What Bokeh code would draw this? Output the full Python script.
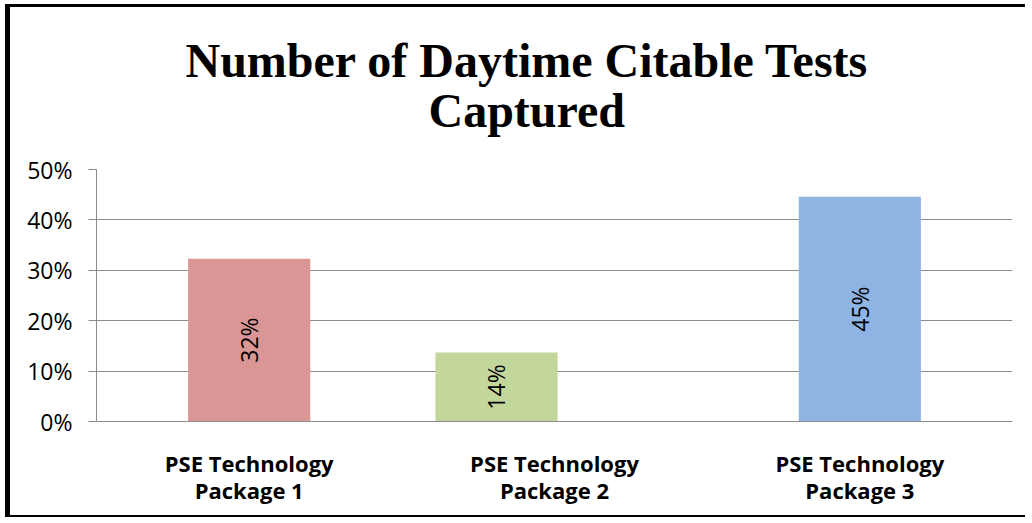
from bokeh.plotting import figure
from bokeh.models import ColumnDataSource, NumeralTickFormatter, FixedTicker, Title, FactorRange
from bokeh.core.properties import value
from bokeh.embed import file_html
from bokeh.resources import INLINE

# ---- data ----
categories = ["PSE Technology\nPackage 1", "PSE Technology\nPackage 2", "PSE Technology\nPackage 3"]
values = [0.323, 0.137, 0.446]
bar_labels = ["32%", "14%", "45%"]
colors = ["#D99694", "#C3D69B", "#8EB4E3"]
y_ticks = [0.0, 0.1, 0.2, 0.3, 0.4, 0.5]
title_lines = ["Number of Daytime Citable Tests", "Captured"]

# layout: the middle bar sits left of its category centre in the reference
bar_shift = [0.0, -0.19, 0.0]

source = ColumnDataSource(dict(
    x=[(c, s) for c, s in zip(categories, bar_shift)],
    val=values,
    mid=[v / 2 for v in values],
    lab=bar_labels,
    color=colors,
))

p = figure(
    x_range=FactorRange(*categories, range_padding=0),
    y_range=(0, 0.5),
    width=1020, height=513,
    output_backend="svg", toolbar_location=None,
    min_border_left=86, min_border_right=18, min_border_top=162, min_border_bottom=99,
)
p.styles = {"border-left": "5px solid black", "border-top": "3px solid black",
            "border-bottom": "2px solid black", "margin-left": "5px", "margin-top": "4px"}

p.vbar(x="x", top="val", width=0.4, source=source, color="color", line_color=None)
p.text(x="x", y="mid", text="lab", source=source, angle=1.5708,
       text_align="center", text_baseline="middle",
       text_font=value("Open Sans"), text_font_size="23px", text_color="black")

# titles (added nearest-first), left aligned with offsets from frame left
title_offsets = [89, 332]
title_standoffs = [-76, 66]
for line, off, so in reversed(list(zip(title_lines, title_offsets, title_standoffs))):
    p.add_layout(Title(text=line, align="left", offset=off,
                       text_font="Liberation Serif", text_font_style="bold",
                       text_font_size="48px", text_color="black", standoff=so), "above")

p.outline_line_color = None
p.background_fill_color = "white"
p.border_fill_color = "white"

p.xgrid.grid_line_color = None
p.ygrid.grid_line_color = "#8C8C8C"
p.ygrid.grid_line_width = 1
p.ygrid.ticker = FixedTicker(ticks=y_ticks)

p.yaxis.ticker = FixedTicker(ticks=y_ticks)
p.yaxis.formatter = NumeralTickFormatter(format="0%")
p.yaxis.axis_line_color = "#8C8C8C"
p.yaxis.major_tick_line_color = "#8C8C8C"
p.yaxis.major_tick_out = 8
p.yaxis.major_tick_in = 0
p.yaxis.minor_tick_line_color = None
p.yaxis.major_label_text_font = "Open Sans"
p.yaxis.major_label_text_font_size = "23px"
p.yaxis.major_label_text_color = "black"
p.yaxis.major_label_standoff = 16

p.xaxis.axis_line_color = "#8C8C8C"
p.xaxis.major_tick_line_color = None
p.xaxis.minor_tick_line_color = None
p.xaxis.major_label_text_font = "Open Sans"
p.xaxis.major_label_text_font_style = "bold"
p.xaxis.major_label_text_font_size = "22px"
p.xaxis.major_label_text_line_height = 0.93
p.xaxis.major_label_text_color = "black"
p.xaxis.major_label_standoff = 20
p.xaxis.major_label_orientation = "horizontal"

open("out.html", "w").write(file_html(p, INLINE))
